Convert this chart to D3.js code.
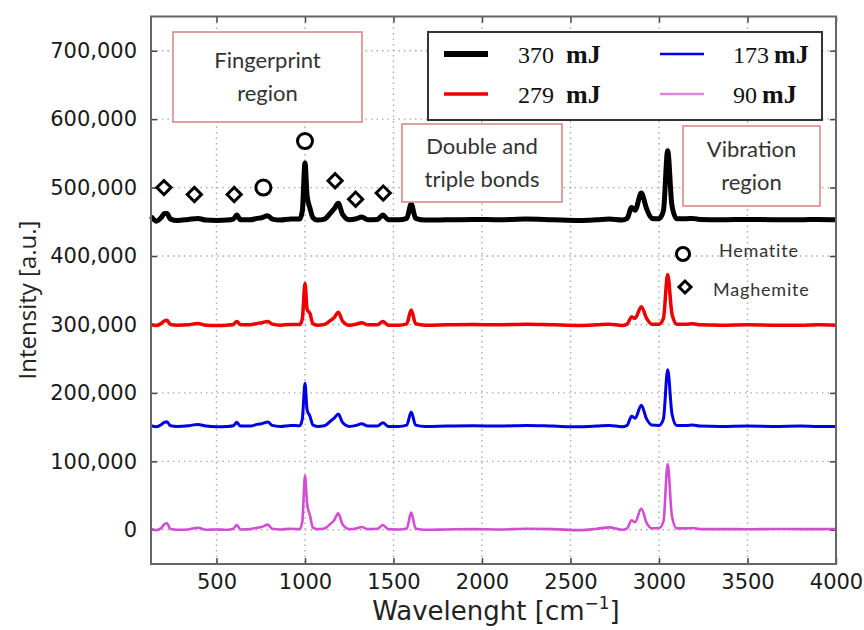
<!DOCTYPE html>
<html>
<head>
<meta charset="utf-8">
<script src="https://cdn.jsdelivr.net/npm/d3@7"></script>
<style>
	body { margin: 0; background: #fff; }
</style>
</head>
<body>
<svg id="chart" width="864" height="630"></svg>
<script>
// spectra (cm-1 / a.u.)
const wavenumbers = [
	130, 160, 190, 205, 220, 240, 280, 340, 395, 440,
	500, 560, 595, 615, 635, 690, 730, 755, 790, 815,
	860, 920, 970, 985, 1000, 1012, 1028, 1045, 1070, 1110,
	1145, 1165, 1188, 1212, 1250, 1290, 1320, 1355, 1410, 1440,
	1470, 1530, 1575, 1600, 1625, 1680, 1800, 1950, 2100, 2250,
	2400, 2550, 2650, 2720, 2790, 2820, 2845, 2865, 2900, 2930,
	2960, 3000, 3025, 3049, 3073, 3100, 3155, 3190, 3230, 3350,
	3500, 3650, 3800, 3900, 4000
];

const i370 = [
	458000, 451000, 457000, 462000, 462000, 454000, 452000, 453500, 455000, 452500,
	452000, 452500, 454000, 460000, 453000, 453000, 455000, 456000, 459000, 454000,
	452500, 454000, 454000, 466000, 536000, 488000, 470000, 456000, 452500, 454000,
	463000, 469000, 477000, 461000, 453000, 454500, 457000, 453000, 453500, 460000,
	453000, 453000, 455000, 476000, 455000, 452500, 453000, 453500, 453000, 454000,
	453000, 452000, 453000, 454000, 452500, 455000, 471000, 467000, 492000, 469000,
	455000, 454500, 466000, 554000, 474000, 454500, 454500, 455000, 453500, 453000,
	453500, 453000, 453000, 453500, 453000
];

const i279 = [
	300000, 298500, 302000, 305000, 306000, 300000, 299000, 299500, 301500, 299000,
	298500, 299000, 300000, 304500, 299500, 299500, 301500, 302500, 304500, 300500,
	299000, 300000, 300000, 308000, 360000, 322000, 316000, 301000, 299000, 300000,
	306000, 310000, 318000, 305000, 299000, 300500, 302500, 299500, 299500, 304500,
	299000, 299000, 301000, 321000, 301000, 299000, 299500, 300000, 299500, 300500,
	299500, 298500, 299500, 300500, 298500, 300500, 311000, 309000, 326000, 309000,
	300500, 300500, 309000, 373000, 316000, 300500, 300500, 301000, 299500, 299000,
	299500, 299000, 299000, 299500, 299000
];

const i173 = [
	152000, 150500, 154000, 157000, 158000, 152000, 151000, 152000, 154000, 151500,
	150500, 151000, 152000, 157000, 151500, 151500, 154000, 155000, 157500, 152500,
	151000, 152500, 152000, 162000, 214000, 175000, 166000, 153000, 151000, 152000,
	159000, 163000, 169000, 157000, 151000, 152500, 155000, 151500, 151500, 156500,
	151000, 151000, 153000, 172000, 153000, 151000, 151500, 152000, 151500, 152500,
	151500, 150500, 151500, 152500, 150500, 152500, 166000, 163000, 182000, 162000,
	153000, 152500, 162000, 234000, 170000, 152500, 152500, 153000, 151500, 151000,
	151500, 151000, 151500, 151000, 151000
];

const i90 = [
	1000, -500, 3000, 8000, 9500, 1000, 0, 500, 3000, 0,
	500, 0, 1500, 7000, 500, 1000, 3000, 4000, 7500, 1500,
	500, 1500, 1000, 12000, 79000, 38000, 21000, 3000, 1000, 2000,
	9000, 14000, 24000, 8000, 1000, 2000, 4000, 1000, 1500, 7000,
	1000, 500, 2000, 25000, 2000, 0, 500, 1000, 500, 1500,
	1000, -500, 1500, 3500, 0, 2000, 14000, 11000, 31000, 10000,
	2000, 2500, 12000, 96000, 20000, 2000, 2000, 2500, 1000, 1000,
	800, 1200, 1000, 1000, 1200
];

const seriesNames = ["370", "279", "173", "90"];

// mineral markers above the top spectrum
const hematiteX = [765, 1000];
const hematiteY = [500000, 568000];
const maghemiteX = [203, 375, 600, 1170, 1286, 1442];
const maghemiteY = [500000, 490000, 490000, 510000, 483000, 492000];

const xTicks = [500, 1000, 1500, 2000, 2500, 3000, 3500, 4000];
const yTicks = [0, 100000, 200000, 300000, 400000, 500000, 600000, 700000];

const W = 864, H = 630;
const margin = { top: 16.5, right: 28, bottom: 66, left: 151 };

const svg = d3.select("#chart").attr("viewBox", [0, 0, W, H]);

const x = d3.scaleLinear().domain([130, 4000]).range([margin.left, W - margin.right]);
const y = d3.scaleLinear().domain([-50000, 750000]).range([H - margin.bottom, margin.top]);

// grid
svg.append("g")
	.selectAll("line")
	.data(xTicks.slice(0, -1))
	.join("line")
	.attr("x1", (d) => x(d)).attr("x2", (d) => x(d))
	.attr("y1", y.range()[1]).attr("y2", y.range()[0])
	.attr("stroke", "#aaa").attr("stroke-width", 1.4).attr("stroke-dasharray", "1.5,4");
svg.append("g")
	.selectAll("line")
	.data(yTicks)
	.join("line")
	.attr("x1", x.range()[0]).attr("x2", x.range()[1])
	.attr("y1", (d) => y(d)).attr("y2", (d) => y(d))
	.attr("stroke", "#aaa").attr("stroke-width", 1.4).attr("stroke-dasharray", "1.5,4");

// axes (ticks point inward)
const gx = svg.append("g")
	.attr("transform", `translate(0,${y.range()[0]})`)
	.call(d3.axisBottom(x).tickValues(xTicks).tickFormat(d3.format("d")).tickSizeInner(-6).tickSizeOuter(0).tickPadding(10));
gx.selectAll("text").style("font-family", "DejaVu Sans").style("font-size", "21px").attr("fill", "#1a1a1a");

const gxTop = svg.append("g")
	.attr("transform", `translate(0,${y.range()[1]})`)
	.call(d3.axisTop(x).tickValues(xTicks).tickFormat("").tickSizeInner(-6).tickSizeOuter(0));

const gy = svg.append("g")
	.attr("transform", `translate(${x.range()[0]},0)`)
	.call(d3.axisLeft(y).tickValues(yTicks).tickFormat(d3.format(",")).tickSizeInner(-6).tickSizeOuter(0).tickPadding(14));
gy.selectAll("text").style("font-family", "DejaVu Sans").style("font-size", "21px").attr("fill", "#1a1a1a");

const gyRight = svg.append("g")
	.attr("transform", `translate(${x.range()[1]},0)`)
	.call(d3.axisRight(y).tickValues(yTicks).tickFormat("").tickSizeInner(-6).tickSizeOuter(0));

[gx, gxTop, gy, gyRight].forEach((g) => {
	g.select(".domain").remove();
	g.selectAll(".tick line").attr("stroke", "#444").attr("stroke-width", 1.5);
});

// spectra
const line = d3.line()
	.x((d) => x(d[0]))
	.y((d) => y(d[1]))
	.curve(d3.curveMonotoneX);

const spectra = [
	{ values: i370, color: "#000", width: 5, legend: "#000", lw: 6 },
	{ values: i279, color: "#ee0000", width: 3.5, legend: "#ee0000", lw: 3.5 },
	{ values: i173, color: "#0000e6", width: 3, legend: "#0000e6", lw: 2.5 },
	{ values: i90, color: "#d24cd4", width: 2.6, legend: "#dd88dd", lw: 2.5 }
];

svg.append("g")
	.selectAll("path")
	.data(spectra.slice().reverse())
	.join("path")
	.attr("d", (s) => line(wavenumbers.map((w, i) => [w, s.values[i]])))
	.attr("fill", "none")
	.attr("stroke", (s) => s.color)
	.attr("stroke-width", (s) => s.width)
	.attr("stroke-linejoin", "round");

// markers
const diamond = d3.symbol().type(d3.symbolSquare).size(100);

svg.append("g")
	.selectAll("circle")
	.data(hematiteX.map((v, i) => [v, hematiteY[i]]))
	.join("circle")
	.attr("cx", (d) => x(d[0]))
	.attr("cy", (d) => y(d[1]))
	.attr("r", 7.5)
	.attr("fill", "#fff").attr("stroke", "#000").attr("stroke-width", 3);

svg.append("g")
	.selectAll("path")
	.data(maghemiteX.map((v, i) => [v, maghemiteY[i]]))
	.join("path")
	.attr("d", diamond)
	.attr("transform", (d) => `translate(${x(d[0])},${y(d[1])}) rotate(45)`)
	.attr("fill", "#fff").attr("stroke", "#000").attr("stroke-width", 3);

// frame
svg.append("rect")
	.attr("x", x.range()[0]).attr("y", y.range()[1])
	.attr("width", x.range()[1] - x.range()[0])
	.attr("height", y.range()[0] - y.range()[1])
	.attr("fill", "none").attr("stroke", "#666").attr("stroke-width", 2);

// axis titles
svg.append("text")
	.attr("transform", "translate(28,300) rotate(-90)")
	.attr("text-anchor", "middle")
	.attr("dy", "0.35em")
	.style("font-family", "Open Sans")
	.style("font-size", "24px")
	.attr("fill", "#222")
	.text("Intensity [a.u.]");

const xt = svg.append("text")
	.attr("x", 496).attr("y", 620)
	.attr("text-anchor", "middle")
	.style("font-family", "DejaVu Sans")
	.style("font-size", "26px")
	.attr("fill", "#222");
xt.append("tspan").text("Wavelenght [cm");
xt.append("tspan").attr("dy", -11).style("font-size", "17px").text("\u22121");
xt.append("tspan").attr("dy", 11).text("]");

// region boxes
const boxes = [
	{ x: 173, y: 32, w: 189, h: 90, lines: ["Fingerprint", "region"] },
	{ x: 402, y: 124, w: 160, h: 78, lines: ["Double and", "triple bonds"] },
	{ x: 683, y: 126, w: 137, h: 80, lines: ["Vibration", "region"] }
];
const bg = svg.append("g")
	.selectAll("g")
	.data(boxes)
	.join("g");
bg.append("rect")
	.attr("x", (b) => b.x).attr("y", (b) => b.y)
	.attr("width", (b) => b.w).attr("height", (b) => b.h)
	.attr("fill", "#fff").attr("stroke", "#d98a8a").attr("stroke-width", 1.6);
bg.each(function (b) {
	const t = d3.select(this).append("text")
		.attr("text-anchor", "middle")
		.style("font-family", "Lato")
		.style("font-size", "22px")
		.attr("fill", "#333");
	b.lines.forEach((s, i) => {
		t.append("tspan")
			.attr("x", b.x + b.w / 2)
			.attr("y", b.y + b.h / 2 - 9 + i * 33)
			.text(s);
	});
});

// series legend
const lg = svg.append("g");
lg.append("rect")
	.attr("x", 428).attr("y", 32).attr("width", 394).attr("height", 88)
	.attr("fill", "#fff").attr("stroke", "#333").attr("stroke-width", 2);
const legendPos = [[444, 54, 518], [444, 94, 518], [660, 54, 733], [660, 94, 733]];
spectra.forEach((s, k) => {
	const [lx, ly, tx] = legendPos[k];
	lg.append("line")
		.attr("x1", lx).attr("x2", lx + 44)
		.attr("y1", ly).attr("y2", ly)
		.attr("stroke", s.legend)
		.attr("stroke-width", s.lw);
	const t = lg.append("text")
		.attr("x", tx).attr("y", ly + 9)
		.style("font-family", "Liberation Serif")
		.style("font-size", "24px")
		.attr("fill", "#111");
	t.append("tspan").text(seriesNames[k]);
	t.append("tspan").attr("dx", k < 2 ? 12 : 5)
		.style("font-weight", "bold").style("font-size", "26px")
		.text("mJ");
});

// mineral legend
svg.append("circle")
	.attr("cx", 683).attr("cy", 254).attr("r", 6.5)
	.attr("fill", "#fff").attr("stroke", "#000").attr("stroke-width", 3);
svg.append("path")
	.attr("d", d3.symbol().type(d3.symbolSquare).size(72))
	.attr("transform", "translate(685,287) rotate(45)")
	.attr("fill", "#fff").attr("stroke", "#000").attr("stroke-width", 3);
svg.append("text")
	.attr("x", 719).attr("y", 257)
	.style("font-family", "Lato").style("font-size", "18px")
	.style("letter-spacing", "0.8px")
	.attr("fill", "#333")
	.text("Hematite");
svg.append("text")
	.attr("x", 713).attr("y", 296)
	.style("font-family", "Lato").style("font-size", "18px")
	.style("letter-spacing", "0.8px")
	.attr("fill", "#333")
	.text("Maghemite");
</script>
</body>
</html>
